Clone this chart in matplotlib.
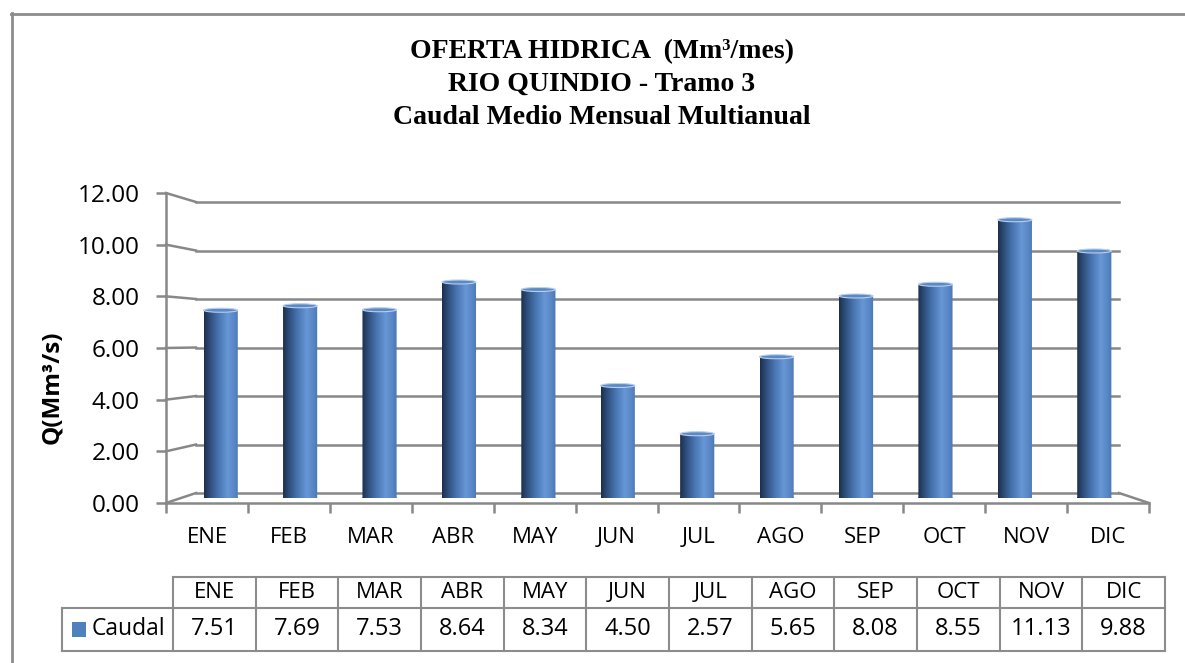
import matplotlib
matplotlib.use("Agg")
import matplotlib.pyplot as plt
import matplotlib.path as mpath
import matplotlib.transforms as mtrans
from matplotlib.lines import Line2D
from matplotlib.patches import Rectangle, Ellipse
from matplotlib.colors import LinearSegmentedColormap
import numpy as np

# ---------------- data ----------------
months = ['ENE', 'FEB', 'MAR', 'ABR', 'MAY', 'JUN', 'JUL', 'AGO', 'SEP', 'OCT', 'NOV', 'DIC']
caudal = [7.51, 7.69, 7.53, 8.64, 8.34, 4.50, 2.57, 5.65, 8.08, 8.55, 11.13, 9.88]
yticks = [0, 2, 4, 6, 8, 10, 12]
series_name = 'Caudal'
title_lines = ['OFERTA HIDRICA  (Mm³/mes)', 'RIO QUINDIO - Tramo 3', 'Caudal Medio Mensual Multianual']
ylabel = 'Q(Mm³/s)'

# ---------------- layout helpers ----------------
W, H = 1185, 663
fig = plt.figure(figsize=(W / 100, H / 100), dpi=100)
fig.patch.set_facecolor('white')

def box(x0, y0, x1, y1):
    return [x0 / W, 1 - y1 / H, (x1 - x0) / W, (y1 - y0) / H]

SANS = ['Open Sans', 'DejaVu Sans']
SERIF = ['Liberation Serif', 'DejaVu Serif']
GRID = '#888888'
n = len(months)

# outer chart border (top + left visible)
fig.add_artist(Line2D([11.5 / W, 11.5 / W], [0, 1 - 13 / H], transform=fig.transFigure, color='#8c8c8c', lw=2))
fig.add_artist(Line2D([11 / W, 1], [1 - 13.5 / H, 1 - 13.5 / H], transform=fig.transFigure, color='#8c8c8c', lw=2))

# ---------------- back wall ----------------
ax_back = fig.add_axes(box(196, 202, 1119, 493))
ax_back.set_xlim(-0.5, n - 0.5)
ax_back.set_ylim(yticks[0], yticks[-1])
ax_back.axis('off')
for v in yticks:
    ax_back.axhline(v, color=GRID, lw=1.8, clip_on=False)

# ---------------- front plane (axis, floor, labels) ----------------
ax_front = fig.add_axes(box(166, 193, 1149, 503))
ax_front.patch.set_alpha(0)
ax_front.set_xlim(-0.5, n - 0.5)
ax_front.set_ylim(yticks[0], yticks[-1])
for s in ['top', 'right']:
    ax_front.spines[s].set_visible(False)
for s in ['left', 'bottom']:
    ax_front.spines[s].set_color(GRID)
    ax_front.spines[s].set_linewidth(1.8)
ax_front.set_yticks(yticks)
ax_front.set_yticklabels([f'{v:.2f}' for v in yticks], fontsize=17.5, family=SANS)
ax_front.tick_params(axis='y', length=7, width=1.8, color=GRID, pad=12)
ax_front.set_xticks(np.arange(n + 1) - 0.5)
ax_front.set_xticklabels([])
ax_front.tick_params(axis='x', which='major', length=7, width=1.8, color=GRID)
ax_front.set_xticks(np.arange(n), minor=True)
ax_front.set_xticklabels(months, minor=True, fontsize=16, family=SANS)
ax_front.tick_params(axis='x', which='minor', length=0, pad=17)

fig.text(52 / W, 1 - 387 / H, ylabel, rotation=90, ha='center', va='center',
         fontsize=17.5, fontweight='bold', family=SANS)

# perspective lines between front plane and back wall
fig.canvas.draw()
inv = fig.transFigure.inverted()
def persp(pf, pb):
    a = inv.transform(ax_front.transData.transform(pf))
    b = inv.transform(ax_back.transData.transform(pb))
    fig.add_artist(Line2D([a[0], b[0]], [a[1], b[1]], transform=fig.transFigure, color=GRID, lw=1.8))
for v in yticks:
    persp((-0.5, v), (-0.5, v))
persp((n - 0.5, 0), (n - 0.5, 0))

# ---------------- bars (mid depth plane) ----------------
ax_bar = fig.add_axes(box(181, 198, 1134, 498))
ax_bar.patch.set_alpha(0)
ax_bar.axis('off')
xs = np.arange(n)
bw = 0.43
bars = ax_bar.bar(xs, caudal, width=bw, color='none', edgecolor='none')
ax_bar.set_xlim(-0.5, n - 0.5)
ax_bar.set_ylim(yticks[0], yticks[-1])

cmap = LinearSegmentedColormap.from_list('cyl', [
    (0.0, '#1b2f4c'), (0.15, '#2c4a75'), (0.4, '#4672ad'),
    (0.68, '#6797d6'), (0.85, '#5b88c6'), (1.0, '#4a78b6')])
grad = np.linspace(0, 1, 256).reshape(1, -1)
ey = 0.08  # half-height of cylinder ellipse in data units
for b in bars:
    x0, w, h = b.get_x(), b.get_width(), b.get_height()
    rect_p = mpath.Path.unit_rectangle().transformed(mtrans.Affine2D().scale(w, h).translate(x0, 0))
    ell_p = mpath.Path.unit_circle().transformed(mtrans.Affine2D().scale(w / 2, ey).translate(x0 + w / 2, 0))
    clip = mpath.Path.make_compound_path(rect_p, ell_p)
    im = ax_bar.imshow(grad, cmap=cmap, aspect='auto', extent=(x0, x0 + w, -ey, h),
                       interpolation='bilinear', zorder=2)
    im.set_clip_path(clip, ax_bar.transData)
    ax_bar.add_patch(Ellipse((x0 + w / 2, h), w, 2 * ey, facecolor='#5b89c7',
                             edgecolor='#b9cfec', lw=0.8, zorder=3))
ax_bar.set_xlim(-0.5, n - 0.5)
ax_bar.set_ylim(yticks[0], yticks[-1])

# ---------------- title ----------------
for i, t in enumerate(title_lines):
    fig.text(602 / W, 1 - (52 + 32.5 * i) / H, t, ha='center', va='center',
             fontsize=20, fontweight='bold', family=SERIF)

# ---------------- data table ----------------
ax_t = fig.add_axes(box(62, 577, 1165, 651))
leg_w = (173 - 62) / ((1165 - 173) / n)
ax_t.set_xlim(-leg_w, n)
ax_t.set_ylim(0, 74)
ax_t.axis('off')
TL = '#8c8c8c'
lk = dict(color=TL, lw=1.5, clip_on=False)
ax_t.plot([0, n], [74, 74], **lk)
ax_t.plot([-leg_w, n], [43, 43], **lk)
ax_t.plot([-leg_w, n], [0, 0], **lk)
for i in range(n + 1):
    ax_t.plot([i, i], [0, 74], **lk)
ax_t.plot([-leg_w, -leg_w], [0, 43], **lk)
for i, (m, v) in enumerate(zip(months, caudal)):
    ax_t.text(i + 0.5, 59, m, ha='center', va='center', fontsize=16, family=SANS)
    ax_t.text(i + 0.5, 22, f'{v:.2f}', ha='center', va='center', fontsize=17, family=SANS)
ax_t.add_patch(Rectangle((-leg_w + 10 / 82.7, 14), 14 / 82.7, 15, facecolor='#4f81bd', edgecolor='none'))
ax_t.text(-leg_w + 30 / 82.7, 22, series_name, ha='left', va='center', fontsize=16.5, family=SANS)

fig.savefig('out.png', dpi=100, facecolor='white')
